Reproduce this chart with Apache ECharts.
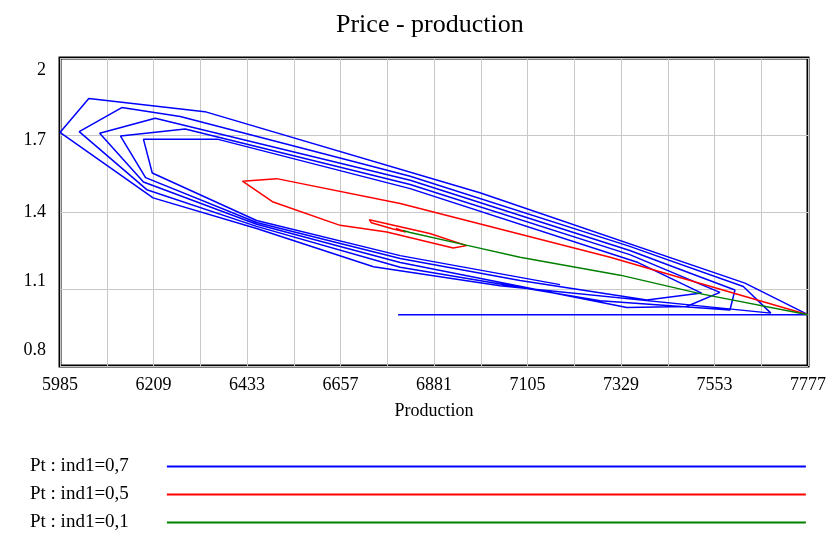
<!DOCTYPE html>
<html>
<head>
<meta charset="utf-8">
<script src="https://cdn.jsdelivr.net/npm/echarts@6/dist/echarts.min.js"></script>
<style>
  html, body { margin: 0; padding: 0; background: #fff; }
  #app { width: 833px; height: 534px; }
</style>
</head>
<body>
<div id="app"></div>
<script>
// trajectories: production (x) and price (y), in time order
var blueProd = [6795, 7777, 7626, 6991, 6332, 6054, 5985, 6208, 6456, 6736, 7039, 7688,
  7622, 7350, 6824, 6273, 6133, 6031, 6193, 6456, 6800, 7279, 7590,
  7602, 7350, 6824, 6213, 6080, 6185, 6456, 6800, 7343, 7486,
  7566, 7350, 6824, 6285, 6130, 6190, 6456, 6800, 7087, 7391,
  7522, 7370, 6824, 6364, 6185, 6206, 6456, 6800, 7183];
var bluePrice = [1.0, 1.0, 1.123, 1.475, 1.791, 1.842, 1.71, 1.455, 1.336, 1.187, 1.113, 1.006,
  1.11, 1.266, 1.539, 1.772, 1.807, 1.713, 1.487, 1.344, 1.185, 1.054, 1.018,
  1.096, 1.25, 1.524, 1.765, 1.707, 1.517, 1.352, 1.203, 1.028, 1.032,
  1.087, 1.234, 1.507, 1.723, 1.696, 1.534, 1.359, 1.219, 1.133, 1.057,
  1.084, 1.203, 1.491, 1.683, 1.683, 1.552, 1.367, 1.23, 1.117];

var redProd = [7777, 7303, 6800, 6504, 6422, 6494, 6656, 6768, 6927, 6959, 6871, 6726,
  6731, 6783, 6814, 6790, 6802, 6807];
var redPrice = [1.0, 1.224, 1.433, 1.53, 1.52, 1.44, 1.348, 1.322, 1.26, 1.269, 1.316, 1.37,
  1.358, 1.334, 1.322, 1.336, 1.326, 1.328];

var greenProd = [7777, 7518, 7327, 7087, 6958, 6824, 6807];
var greenPrice = [1.0, 1.082, 1.154, 1.224, 1.271, 1.32, 1.328];

var seriesNames = ["Pt : ind1=0,7", "Pt : ind1=0,5", "Pt : ind1=0,1"];
var seriesColors = ["#0000ff", "#ff0000", "#008000"];

var xMin = 5985, xMax = 7777, xStep = 112;
var yMin = 0.8, yMax = 2.0, yStep = 0.3;

// vensim puts the end labels inside the frame, shift them a bit
var yLabelShift = { "2": 12, "1.7": 5, "1.4": 0, "1.1": -8, "0.8": -16 };

function pairs(xs, ys) {
  var out = [];
  for (var i = 0; i < xs.length; i++) out.push([xs[i], ys[i]]);
  return out;
}

var serif = "Liberation Serif";
var yRich = {};
for (var k in yLabelShift) {
  var s = yLabelShift[k];
  yRich["s" + k.replace(".", "_")] = {
    fontFamily: serif,
    fontSize: 18,
    color: "#000",
    padding: s >= 0 ? [2 * s, 0, 0, 0] : [0, 0, -2 * s, 0]
  };
}

var chartDom = document.getElementById("app");
var myChart = echarts.init(chartDom, null, { renderer: "canvas" });

var lists = [pairs(blueProd, bluePrice), pairs(redProd, redPrice), pairs(greenProd, greenPrice)];
var series = [];
for (var i = 0; i < 3; i++) {
  series.push({
    name: seriesNames[i],
    type: "line",
    data: lists[i],
    symbol: "none",
    showSymbol: false,
    smooth: false,
    animation: false,
    lineStyle: { color: seriesColors[i], width: 1.5 },
    itemStyle: { color: seriesColors[i] }
  });
}

var option = {
  animation: false,
  title: {
    text: "Price - production",
    left: 331,
    top: 7,
    textStyle: { fontFamily: serif, fontSize: 26, fontWeight: "normal", color: "#000" }
  },
  grid: {
    left: 60,
    right: 25,
    top: 58,
    bottom: 168,
    show: true,
    borderColor: "#000",
    borderWidth: 3,
    containLabel: false
  },
  legend: {
    orient: "vertical",
    left: 30,
    top: 457,
    padding: 0,
    align: "right",
    itemWidth: 639,
    itemHeight: 18,
    itemGap: 9,
    data: seriesNames,
    itemStyle: { opacity: 0 },
    lineStyle: { width: 2 },
    textStyle: { fontFamily: serif, fontSize: 19, color: "#000", padding: [0, 33, 0, 0] }
  },
  xAxis: {
    type: "value",
    min: xMin,
    max: xMax,
    interval: xStep,
    name: "Production",
    nameLocation: "middle",
    nameGap: 36,
    nameTextStyle: { fontFamily: serif, fontSize: 18, color: "#000" },
    axisLine: { show: false },
    axisTick: { show: false },
    axisLabel: {
      fontFamily: serif,
      fontSize: 18,
      color: "#000",
      margin: 10,
      formatter: function (v) {
        var n = Math.round((v - xMin) / xStep);
        return n % 2 === 0 ? String(Math.round(v)) : "";
      }
    },
    splitLine: { show: true, lineStyle: { color: "#c8c8c8", width: 1 } }
  },
  yAxis: {
    type: "value",
    min: yMin,
    max: yMax,
    interval: yStep,
    axisLine: { show: false },
    axisTick: { show: false },
    axisLabel: {
      fontFamily: serif,
      fontSize: 18,
      color: "#000",
      margin: 14,
      rich: yRich,
      formatter: function (v) {
        var t = String(+v.toFixed(1));
        return "{s" + t.replace(".", "_") + "|" + t + "}";
      }
    },
    splitLine: { show: true, lineStyle: { color: "#c8c8c8", width: 1 } }
  },
  series: series
};

option && myChart.setOption(option);
</script>
</body>
</html>
